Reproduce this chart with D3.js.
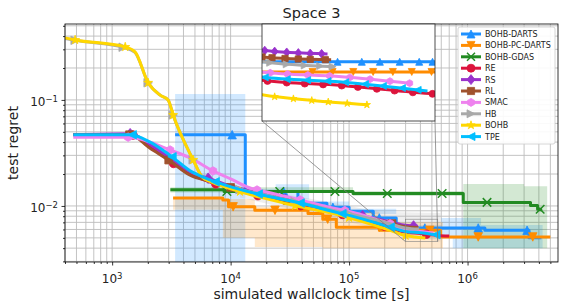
<!DOCTYPE html>
<html>
<head>
<meta charset="utf-8">
<script src="https://cdnjs.cloudflare.com/ajax/libs/d3/7.8.5/d3.min.js"></script>
<style>
  body { margin: 0; background: #fff; }
  svg { font-family: "DejaVu Sans", sans-serif; }
</style>
</head>
<body>
<svg id="chart"></svg>
<script>
// Series data: [simulated wallclock time (s), test regret]
const bohbDarts = [[3400, 0.047], [1.33e4, 0.0137], [3.7e4, 0.0106], [6.5e4, 0.0097], [1.0e5, 0.0089],
  [1.6e5, 0.0077], [2.5e5, 0.0062], [1.4e6, 0.0059], [3.3e6, 0.0050], [4.2e6, 0.0050]];
const pcDarts = [[3270, 0.0119], [8600, 0.0114], [9600, 0.0098], [1.6e4, 0.0091], [4.5e4, 0.0085],
  [6.0e4, 0.0075], [7.8e4, 0.0063], [1.8e5, 0.00589], [5.9e5, 0.0051], [5.0e6, 0.0051]];
const gdas = [[3100, 0.0142], [8800, 0.0137], [1.08e5, 0.0131], [9.2e5, 0.0108], [3.4e6, 0.0101],
  [3.9e6, 0.0093], [4.15e6, 0.0089]];
const re = [[470, 0.047], [1420, 0.047], [2090, 0.037], [3085, 0.0265], [4550, 0.0200], [6710, 0.0168],
  [9900, 0.0148], [1.46e4, 0.0130], [2.15e4, 0.0118], [3.18e4, 0.0106], [4.69e4, 0.0096], [6.91e4, 0.0088],
  [1.02e5, 0.0080], [1.5e5, 0.0071], [2.22e5, 0.0062], [3.0e5, 0.00565], [4.0e5, 0.00550], [5.6e5, 0.00527],
  [7.0e5, 0.0052]];
const rs = [[470, 0.047], [1420, 0.048], [2090, 0.038], [3085, 0.028], [4550, 0.021], [6710, 0.0180],
  [9900, 0.0155], [1.46e4, 0.0138], [2.15e4, 0.0125], [3.18e4, 0.0113], [4.69e4, 0.0103], [6.91e4, 0.0094],
  [1.02e5, 0.0086], [1.5e5, 0.0078], [2.22e5, 0.0071], [3.0e5, 0.00657], [3.8e5, 0.00645]];
const rl = [[470, 0.047], [1420, 0.047], [2090, 0.035], [3085, 0.0265], [4550, 0.0195], [6710, 0.0170],
  [9900, 0.0150], [1.46e4, 0.0135], [2.15e4, 0.0122], [3.18e4, 0.0111], [4.69e4, 0.0102], [6.91e4, 0.0093],
  [1.02e5, 0.0085], [1.5e5, 0.0077], [2.22e5, 0.0069], [3.0e5, 0.00635], [3.85e5, 0.00626]];
const smac = [[470, 0.0445], [1420, 0.0445], [2090, 0.040], [3085, 0.0337], [4550, 0.0284], [7100, 0.0214],
  [1.0e4, 0.0180], [1.4e4, 0.0150], [2.15e4, 0.0133], [3.18e4, 0.0120], [4.69e4, 0.0108], [6.91e4, 0.0097],
  [1.02e5, 0.0088], [1.5e5, 0.0078], [2.22e5, 0.0068], [3.0e5, 0.00589], [4.0e5, 0.00575], [5.15e5, 0.00556]];
const hb = [[401, 0.38], [487, 0.365], [1290, 0.31], [1560, 0.28], [2013, 0.145], [2541, 0.111], [2970, 0.10],
  [3270, 0.072], [4830, 0.0272], [5745, 0.0188], [6710, 0.0172], [9900, 0.0150], [1.46e4, 0.0136],
  [2.15e4, 0.0124], [3.18e4, 0.0112], [4.69e4, 0.0102], [6.91e4, 0.0092], [1.02e5, 0.0084], [1.5e5, 0.0076],
  [2.22e5, 0.0068], [3.0e5, 0.0062], [3.9e5, 0.00605]];
const bohb = [[401, 0.385], [487, 0.368], [1290, 0.316], [1560, 0.284], [2013, 0.145], [2541, 0.111],
  [2970, 0.10], [3270, 0.072], [4830, 0.0272], [5745, 0.0188], [6710, 0.0170], [9900, 0.0146],
  [1.46e4, 0.0128], [2.15e4, 0.0115], [3.18e4, 0.0103], [4.69e4, 0.0094], [6.91e4, 0.0086], [1.02e5, 0.0077],
  [1.5e5, 0.0068], [2.22e5, 0.0059], [3.0e5, 0.00525], [3.6e5, 0.0051], [4.4e5, 0.00499]];
const tpe = [[470, 0.047], [1420, 0.047], [2090, 0.040], [3085, 0.030], [4550, 0.0215], [6710, 0.0176],
  [9900, 0.0152], [1.46e4, 0.0135], [2.15e4, 0.0122], [3.18e4, 0.0112], [4.69e4, 0.0101], [6.91e4, 0.0090],
  [1.02e5, 0.0081], [1.5e5, 0.0072], [2.22e5, 0.0063], [3.0e5, 0.00574], [4.0e5, 0.00560], [5.45e5, 0.00535]];

// Marker times, main plot
const bohbDartsMarks = [1.03e4, 2.8e4, 7.3e4, 1.8e5, 4.36e5, 1.23e6, 3.18e6];
const pcDartsMarks = [1.05e4, 2.37e4, 6.6e4, 1.8e5, 4.8e5, 1.23e6, 3.55e6];
const gdasMarks = [9300, 2.6e4, 7.6e4, 2.1e5, 6.1e5, 1.46e6, 4.1e6];
const reMarks = [1500, 3300, 7500, 1.7e4, 3.9e4, 8.8e4, 2.0e5, 4.5e5];
const rsMarks = [1419, 6460, 2.9e4, 1.3e5, 3.5e5];
const rlMarks = [1400, 3000, 1.0e4, 3.0e4, 9.2e4, 2.3e5];
const smacMarks = [1365, 3085, 7100, 1.67e4, 3.86e4, 9.2e4, 2.22e5];
const hbMarks = [487, 1240, 2013, 3270, 4830, 1.2e4, 3.5e4, 1.0e5];
const bohbMarks = [487, 1290, 2013, 3270, 4830, 1.2e4, 3.5e4, 1.0e5, 3.0e5];
const tpeMarks = [1475, 3200, 7400, 1.71e4, 3.86e4, 8.7e4, 2.22e5, 5.4e5];

// Marker times, inset
const bohbDartsInset = [3.94e5, 4.30e5, 4.59e5, 4.93e5, 5.29e5, 5.55e5];
const pcDartsInset = [3.60e5, 3.87e5, 4.17e5, 4.48e5, 4.81e5, 5.15e5, 5.53e5];
const reInset = [3.06e5, 3.28e5, 3.50e5, 3.74e5, 4.00e5, 4.24e5, 4.54e5, 4.84e5, 5.17e5, 5.55e5];
const rsInset = [3.03e5, 3.14e5, 3.28e5, 3.42e5, 3.57e5, 3.72e5];
const rlInset = [3.0e5, 3.11e5, 3.26e5, 3.42e5, 3.57e5, 3.77e5];
const smacInset = [3.09e5, 3.29e5, 3.54e5, 3.83e5, 4.12e5, 4.43e5, 4.76e5, 5.11e5];
const hbInset = [3.09e5, 3.28e5, 3.50e5, 3.70e5, 3.87e5];
const bohbInset = [3.14e5, 3.36e5, 3.59e5, 3.81e5, 4.08e5, 4.38e5];
const tpeInset = [3.03e5, 3.28e5, 3.53e5, 3.80e5, 4.05e5, 4.35e5, 4.64e5, 4.97e5, 5.26e5];

// Spread bands: [time, low, high]
const bohbDartsBand = [[3400, 0.001, 0.114], [1.33e4, 0.0128, 0.0145], [2.4e4, 0.0115, 0.0160],
  [4.6e4, 0.0097, 0.0110], [1.0e5, 0.0084, 0.0094], [2.5e5, 0.0059, 0.0066], [6.0e5, 0.0052, 0.0077],
  [7.5e5, 0.0040, 0.0077], [1.3e6, 0.0040, 0.0066], [4.3e6, 0.0040, 0.0066]];
const pcDartsBand = [[3270, 0.0092, 0.0121], [8600, 0.0050, 0.0116], [1.6e4, 0.0041, 0.0098],
  [6.0e4, 0.0040, 0.0088], [1.8e5, 0.0040, 0.0070], [6.2e5, 0.0040, 0.0070]];
const gdasBand = [[3100, 0.0134, 0.0150], [1.08e5, 0.0124, 0.0138], [9.2e5, 0.0040, 0.0161],
  [3.0e6, 0.0040, 0.0153], [4.7e6, 0.0040, 0.0153]];
const hbBand = [[1.2e4, 0.0120, 0.0160], [3.0e4, 0.0095, 0.0128], [8.0e4, 0.0075, 0.0105],
  [1.8e5, 0.0060, 0.0088], [5.9e5, 0.0046, 0.0086]];

const xMajor = [1e3, 1e4, 1e5, 1e6];
const xMajorExp = ["3", "4", "5", "6"];
const yMajor = [1e-2, 1e-1];
const yMajorExp = ["\u22122", "\u22121"];

const series = [
  { name: "BOHB-DARTS", data: bohbDarts, marks: bohbDartsMarks, inset: bohbDartsInset, band: bohbDartsBand, color: "#1e90ff", marker: "^", step: true },
  { name: "BOHB-PC-DARTS", data: pcDarts, marks: pcDartsMarks, inset: pcDartsInset, band: pcDartsBand, color: "#ff8c00", marker: "v", step: true },
  { name: "BOHB-GDAS", data: gdas, marks: gdasMarks, inset: [], band: gdasBand, color: "#228b22", marker: "x", step: true },
  { name: "RE", data: re, marks: reMarks, inset: reInset, color: "#dc143c", marker: "o" },
  { name: "RS", data: rs, marks: rsMarks, inset: rsInset, color: "#9932cc", marker: "D" },
  { name: "RL", data: rl, marks: rlMarks, inset: rlInset, color: "#a0522d", marker: "s" },
  { name: "SMAC", data: smac, marks: smacMarks, inset: smacInset, color: "#ee82ee", marker: "h" },
  { name: "HB", data: hb, marks: hbMarks, inset: hbInset, band: hbBand, color: "#a9a9a9", marker: ">" },
  { name: "BOHB", data: bohb, marks: bohbMarks, inset: bohbInset, color: "#ffd700", marker: "*" },
  { name: "TPE", data: tpe, marks: tpeMarks, inset: tpeInset, color: "#00bfff", marker: "<" }
];

// Layout
const margin = { top: 24, right: 3, bottom: 41, left: 65 };
const width = 561 - margin.left - margin.right;
const height = 303 - margin.top - margin.bottom;

const xScale = d3.scaleLog().domain([400, 5.8e6]).range([0, width]);
const yScale = d3.scaleLog().domain([0.00296, 0.52]).range([height, 0]);

// inset (zoomed view)
const inset = { left: 197, top: 0, width: 173, height: 97 };
const insetX = d3.scaleLog().domain([3e5, 5.6e5]).range([0, inset.width]);
const insetY = d3.scaleLog().domain([0.0046, 0.0075]).range([inset.height, 0]);

const svg = d3.select("#chart").attr("width", 561).attr("height", 303);
const g = svg.append("g").attr("transform", `translate(${margin.left},${margin.top})`);

const defs = svg.append("defs");
defs.append("clipPath").attr("id", "clip").append("rect").attr("width", width).attr("height", height);
defs.append("clipPath").attr("id", "clipInset").append("rect").attr("width", inset.width).attr("height", inset.height);

// Grid (major + minor)
const gridColor = "#bcbcbc";
g.append("g").selectAll("line").data(xScale.ticks()).join("line")
  .attr("x1", d => xScale(d)).attr("x2", d => xScale(d))
  .attr("y1", 0).attr("y2", height)
  .attr("stroke", gridColor).attr("stroke-width", 0.9);
g.append("g").selectAll("line").data(yScale.ticks()).join("line")
  .attr("y1", d => yScale(d)).attr("y2", d => yScale(d))
  .attr("x1", 0).attr("x2", width)
  .attr("stroke", gridColor).attr("stroke-width", 0.9);

function markerPath(type, ms) {
  const r = ms / 2;
  const poly = pts => "M" + pts.map(p => p[0].toFixed(2) + "," + p[1].toFixed(2)).join("L") + "Z";
  switch (type) {
    case "^": return poly([[0, -r], [r, r], [-r, r]]);
    case "v": return poly([[0, r], [r, -r], [-r, -r]]);
    case "<": return poly([[-r, 0], [r, -r], [r, r]]);
    case ">": return poly([[r, 0], [-r, -r], [-r, r]]);
    case "s": return poly([[-r * 0.9, -r * 0.9], [r * 0.9, -r * 0.9], [r * 0.9, r * 0.9], [-r * 0.9, r * 0.9]]);
    case "D": { const d = r * 1.25; return poly([[0, -d], [d * 0.8, 0], [0, d], [-d * 0.8, 0]]); }
    case "x": return `M${-r},${-r}L${r},${r}M${-r},${r}L${r},${-r}`;
    case "o": return `M${r},0A${r},${r} 0 1,1 ${-r},0A${r},${r} 0 1,1 ${r},0Z`;
    case "h": return poly(d3.range(6).map(k => {
      const a = (-90 + 60 * k) * Math.PI / 180; return [r * Math.cos(a), r * Math.sin(a)];
    }));
    case "*": return poly(d3.range(10).map(k => {
      const a = (-90 + 36 * k) * Math.PI / 180; const rr = k % 2 ? r * 0.42 : r * 1.1;
      return [rr * Math.cos(a), rr * Math.sin(a)];
    }));
  }
}

function lineGen(sx, sy, step) {
  return d3.line().x(d => sx(d[0])).y(d => sy(d[1]))
    .curve(step ? d3.curveStepAfter : d3.curveMonotoneX);
}

// find the point on a drawn path at a given x position
function pointAt(node, px) {
  const total = node.getTotalLength();
  const a = node.getPointAtLength(0), b = node.getPointAtLength(total);
  if (px < a.x - 0.5 || px > b.x + 0.5) return null;
  let lo = 0, hi = total;
  for (let i = 0; i < 40; i++) {
    const mid = (lo + hi) / 2;
    if (node.getPointAtLength(mid).x < px) lo = mid; else hi = mid;
  }
  return node.getPointAtLength(hi);
}

function drawMarker(layer, s, x, y, ms) {
  layer.append("path")
    .attr("transform", `translate(${x},${y})`)
    .attr("d", markerPath(s.marker, ms))
    .attr("fill", s.marker === "x" ? "none" : s.color)
    .attr("stroke", s.color)
    .attr("stroke-width", s.marker === "x" ? 1.5 : 0.8)
    .attr("stroke-linejoin", "miter");
}

function drawSeries(layer, s, sx, sy, marks, ms, lw) {
  const path = layer.append("path").datum(s.data)
    .attr("fill", "none").attr("stroke", s.color).attr("stroke-width", lw)
    .attr("stroke-linejoin", "round")
    .attr("d", lineGen(sx, sy, s.step));
  const node = path.node();
  marks.forEach(t => {
    const p = pointAt(node, sx(t));
    if (p) drawMarker(layer, s, p.x, p.y, ms);
  });
}

// Main plot
const plot = g.append("g").attr("clip-path", "url(#clip)");

series.filter(s => s.band).forEach(s => {
  plot.append("path").datum(s.band)
    .attr("fill", s.color).attr("fill-opacity", 0.2)
    .attr("d", d3.area().x(d => xScale(d[0])).y0(d => yScale(d[1])).y1(d => yScale(d[2]))
      .curve(s.step ? d3.curveStepAfter : d3.curveLinear));
});

series.forEach(s => drawSeries(plot, s, xScale, yScale, s.marks, 8.5, 3));

// Axes
const xMinor = xScale.ticks().filter(d => !xMajor.includes(d));
const yMinor = yScale.ticks().filter(d => !yMajor.some(m => Math.abs(m - d) < 1e-9));

function styleAxis(sel) {
  sel.select(".domain").remove();
  sel.selectAll(".tick line").attr("stroke", "#000").attr("stroke-width", 0.8);
}
g.append("g").attr("transform", `translate(0,${height})`)
  .call(d3.axisBottom(xScale).tickValues(xMajor).tickSize(3.5).tickFormat(""))
  .call(styleAxis);
g.append("g").attr("transform", `translate(0,${height})`)
  .call(d3.axisBottom(xScale).tickValues(xMinor).tickSize(2).tickFormat(""))
  .call(styleAxis);
g.append("g")
  .call(d3.axisLeft(yScale).tickValues(yMajor).tickSize(3.5).tickFormat(""))
  .call(styleAxis);
g.append("g")
  .call(d3.axisLeft(yScale).tickValues(yMinor).tickSize(2).tickFormat(""))
  .call(styleAxis);

xMajor.forEach((v, i) => {
  const t = g.append("text").attr("x", xScale(v)).attr("y", height + 21)
    .attr("text-anchor", "middle").attr("font-size", 12).attr("fill", "#222");
  t.append("tspan").text("10");
  t.append("tspan").attr("dy", "-0.45em").attr("font-size", 8.5).text(xMajorExp[i]);
});
yMajor.forEach((v, i) => {
  const t = g.append("text").attr("x", -7).attr("y", yScale(v) + 6)
    .attr("text-anchor", "end").attr("font-size", 12).attr("fill", "#222");
  t.append("tspan").text("10");
  t.append("tspan").attr("dy", "-0.45em").attr("font-size", 8.5).text(yMajorExp[i]);
});

g.append("rect").attr("width", width).attr("height", height)
  .attr("fill", "none").attr("stroke", "#000").attr("stroke-width", 0.8);

// Zoom region marker and connectors
const zx0 = xScale(insetX.domain()[0]), zx1 = xScale(insetX.domain()[1]);
const zy0 = yScale(insetY.domain()[1]), zy1 = yScale(insetY.domain()[0]);
g.append("rect").attr("x", zx0).attr("y", zy0).attr("width", zx1 - zx0).attr("height", zy1 - zy0)
  .attr("fill", "none").attr("stroke", "#808080").attr("stroke-width", 0.6);
g.append("line").attr("x1", inset.left).attr("y1", inset.top + inset.height).attr("x2", zx0).attr("y2", zy1)
  .attr("stroke", "#808080").attr("stroke-width", 0.8);
g.append("line").attr("x1", inset.left + inset.width).attr("y1", inset.top + inset.height).attr("x2", zx1).attr("y2", zy1)
  .attr("stroke", "#808080").attr("stroke-width", 0.8);

// Inset
const ig = g.append("g").attr("transform", `translate(${inset.left},${inset.top})`);
ig.append("rect").attr("width", inset.width).attr("height", inset.height).attr("fill", "#fff");
const iplot = ig.append("g").attr("clip-path", "url(#clipInset)");
series.forEach(s => drawSeries(iplot, s, insetX, insetY, s.inset, 7, 3));
ig.append("rect").attr("width", inset.width).attr("height", inset.height)
  .attr("fill", "none").attr("stroke", "#222").attr("stroke-width", 0.8);

// Legend
const legend = svg.append("g").attr("transform", "translate(458,27)");
legend.append("rect").attr("width", 97).attr("height", 117).attr("rx", 2)
  .attr("fill", "#fff").attr("fill-opacity", 0.9).attr("stroke", "#cccccc").attr("stroke-width", 0.8);
series.forEach((s, i) => {
  const row = legend.append("g").attr("transform", `translate(0,${7 + i * 11.4})`);
  row.append("line").attr("x1", 3).attr("x2", 23).attr("stroke", s.color).attr("stroke-width", 3);
  drawMarker(row, s, 13, 0, 8);
  row.append("text").attr("x", 27).attr("y", 3).attr("font-size", 8).attr("fill", "#222").text(s.name);
});

// Titles
svg.append("text").attr("x", margin.left + width / 2).attr("y", 17.5)
  .attr("text-anchor", "middle").attr("font-size", 14.5).attr("fill", "#222").text("Space 3");
svg.append("text").attr("x", margin.left + width / 2).attr("y", 299)
  .attr("text-anchor", "middle").attr("font-size", 14).attr("fill", "#222").text("simulated wallclock time [s]");
svg.append("text").attr("transform", `translate(18,${margin.top + height / 2}) rotate(-90)`)
  .attr("text-anchor", "middle").attr("font-size", 14).attr("fill", "#222").text("test regret");
</script>
</body>
</html>
